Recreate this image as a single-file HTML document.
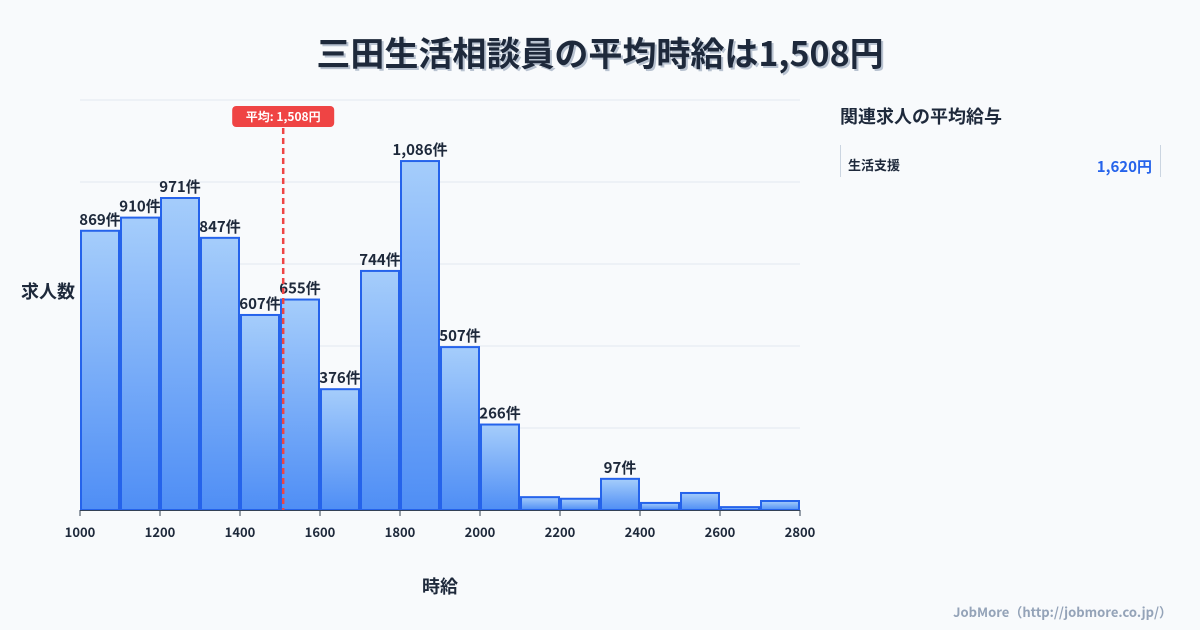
<!DOCTYPE html>
<html><head><meta charset="utf-8">
<style>
body{margin:0;width:1200px;height:630px;background:#f8fafc;font-family:"Noto Sans CJK JP","Liberation Sans",sans-serif;overflow:hidden}
svg{position:absolute;left:0;top:0;font-family:"Noto Sans CJK JP","Liberation Sans",sans-serif}
</style></head>
<body>
<svg id="c" width="1200" height="630">
<defs><linearGradient id="g" x1="0" y1="0" x2="0" y2="1"><stop offset="0" stop-color="#a5cdfb"/><stop offset="1" stop-color="#4f8ef5"/></linearGradient></defs>
<text x="602" y="68" text-anchor="middle" font-size="34" font-weight="bold" fill="#b8c2d0">三田生活相談員の平均時給は1,508円</text>
<text x="600" y="66" text-anchor="middle" font-size="34" font-weight="bold" fill="#1e293b">三田生活相談員の平均時給は1,508円</text>
<text x="48" y="298" text-anchor="middle" font-size="18" font-weight="bold" fill="#1e293b">求人数</text>
<text x="440" y="593" text-anchor="middle" font-size="18" font-weight="bold" fill="#1e293b">時給</text>
<text x="840" y="123" font-size="18" font-weight="bold" fill="#1e293b">関連求人の平均給与</text>
<line x1="840.5" y1="145" x2="840.5" y2="177" stroke="#cbd5e1"/>
<line x1="1160.5" y1="145" x2="1160.5" y2="177" stroke="#cbd5e1"/>
<text x="848" y="170" font-size="13" font-weight="bold" fill="#1e293b">生活支援</text>
<text x="1152" y="172" text-anchor="end" font-size="15" font-weight="bold" fill="#2563eb">1,620円</text>
<text x="1172" y="617" text-anchor="end" font-size="13" font-weight="bold" fill="#94a3b8">JobMore（http://jobmore.co.jp/）</text>
<g id="plot"></g>
</svg>
<script>
const binStarts=[1000,1100,1200,1300,1400,1500,1600,1700,1800,1900,2000,2100,2200,2300,2400,2500,2600,2700];
const counts=[869,910,971,847,607,655,376,744,1086,507,266,40,35,97,22,53,9,28];
const labelShown=[1,1,1,1,1,1,1,1,1,1,1,0,0,1,0,0,0,0];
const xTicks=[1000,1200,1400,1600,1800,2000,2200,2400,2600,2800];
const avgWage=1508;
const ns="http://www.w3.org/2000/svg";
const X0=80,X1=800,Y0=510,Y1=100,xmin=1000,xmax=2800,ymax=1276;
const x=v=>X0+(v-xmin)/(xmax-xmin)*(X1-X0);
const y=v=>Y0-v/ymax*(Y0-Y1);
const p=document.getElementById('plot');
function mk(t,a){const e=document.createElementNS(ns,t);for(const k in a)e.setAttribute(k,a[k]);p.appendChild(e);return e;}
for(let i=0;i<=5;i++){const gy=Y0-i*(Y0-Y1)/5;
const l=mk('line',{x1:X0,x2:X1,y1:gy,y2:gy,stroke:'#e2e8f0'});

}
binStarts.forEach((b,i)=>{
const r=mk('rect',{x:x(b)+1,y:y(counts[i]),width:x(b+100)-x(b)-2,height:Y0-y(counts[i]),fill:'url(#g)',stroke:'#2563eb','stroke-width':2});


if(labelShown[i]){const t=mk('text',{x:(x(b)+x(b+100))/2,y:y(counts[i])-6,'text-anchor':'middle','font-size':15,'font-weight':'bold',fill:'#1e293b'});
t.textContent=counts[i].toLocaleString('en-US')+'件';

}
});
const ax=mk('line',{x1:X0,x2:X1,y1:Y0+0.5,y2:Y0+0.5,stroke:'#334155'});


xTicks.forEach(v=>{
const tk=mk('line',{x1:x(v),x2:x(v),y1:Y0,y2:Y0+6,stroke:'#334155'});


const t=mk('text',{x:x(v),y:Y0+27,'text-anchor':'middle','font-size':13,'font-weight':'bold',fill:'#1e293b'});
t.textContent=v;

});
const ml=mk('line',{x1:x(avgWage),x2:x(avgWage),y1:128,y2:Y0,stroke:'#ef4444','stroke-width':2.5,'stroke-dasharray':'6,4'});


const bx=mk('rect',{x:x(avgWage)-51,y:106,width:102,height:21,rx:4,fill:'#ef4444'});


const bt=mk('text',{x:x(avgWage),y:121,'text-anchor':'middle','font-size':12,'font-weight':'bold',fill:'#fff'});
bt.textContent='平均: '+avgWage.toLocaleString('en-US')+'円';


</script>
</body></html>
